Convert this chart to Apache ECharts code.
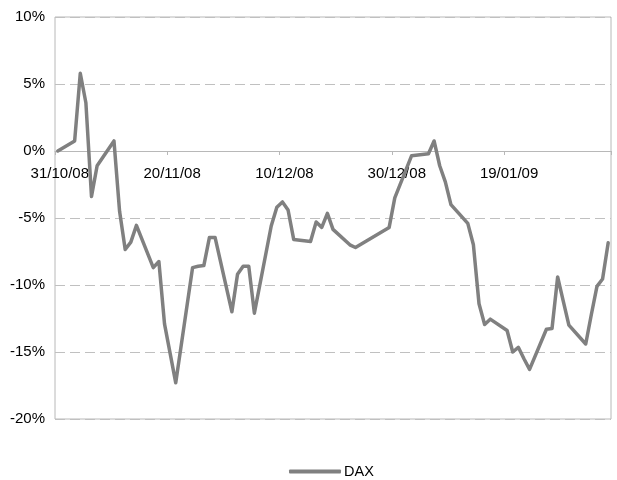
<!DOCTYPE html>
<html>
<head>
<meta charset="utf-8">
<script src="https://cdn.jsdelivr.net/npm/echarts@6/dist/echarts.min.js"></script>
<style>
html,body{margin:0;padding:0;background:#fff;}
#chart{width:617px;height:480px;}
</style>
</head>
<body>
<div id="chart"></div>
<script>
// Trading days (dd/mm/yy) and DAX performance vs 31/10/08 (%)
var tradingDays = [
  "31/10/08",
  "03/11/08","04/11/08","05/11/08","06/11/08","07/11/08",
  "10/11/08","11/11/08","12/11/08","13/11/08","14/11/08",
  "17/11/08","18/11/08","19/11/08","20/11/08","21/11/08",
  "24/11/08","25/11/08","26/11/08","27/11/08","28/11/08",
  "01/12/08","02/12/08","03/12/08","04/12/08","05/12/08",
  "08/12/08","09/12/08","10/12/08","11/12/08","12/12/08",
  "15/12/08","16/12/08","17/12/08","18/12/08","19/12/08",
  "22/12/08","23/12/08",
  "29/12/08","30/12/08",
  "02/01/09",
  "05/01/09","06/01/09","07/01/09","08/01/09","09/01/09",
  "12/01/09","13/01/09","14/01/09","15/01/09","16/01/09",
  "19/01/09","20/01/09","21/01/09","22/01/09","23/01/09",
  "26/01/09","27/01/09","28/01/09","29/01/09","30/01/09",
  "02/02/09","03/02/09","04/02/09","05/02/09","06/02/09"
];
var daxValues = [
  0,
  0.75, 5.8, 3.6, -3.4, -1.1,
  0.75, -4.5, -7.35, -6.8, -5.55,
  -8.7, -8.25, -12.9, -15.1, -17.3,
  -8.7, -8.6, -8.55, -6.45, -6.45,
  -12.0, -9.2, -8.6, -8.6, -12.1,
  -5.6, -4.2, -3.8, -4.4, -6.6,
  -6.75, -5.3, -5.7, -4.65, -5.85,
  -7.0, -7.2,
  -5.7, -3.5,
  -0.35,
  -0.2, 0.75, -1.1, -2.3, -4.0,
  -5.4, -7.0, -11.4, -12.95, -12.55,
  -13.4, -15.0, -14.65, -15.5, -16.3,
  -13.3, -13.25, -9.4, -11.2, -13.0,
  -14.4, -12.2, -10.1, -9.55, -6.85
];
var seriesName = "DAX";
var yTicks = [-20, -15, -10, -5, 0, 5, 10];

// Build a calendar-day category axis (date axis) from the trading days
function parseD(s){var p=s.split("/");return Date.UTC(2000+ +p[2], +p[1]-1, +p[0]);}
function fmt(t){var d=new Date(t);function z(n){return (n<10?"0":"")+n;}
  return z(d.getUTCDate())+"/"+z(d.getUTCMonth()+1)+"/"+z(d.getUTCFullYear()%100);}
var lookup = {};
tradingDays.forEach(function(d,i){lookup[d]=daxValues[i];});
var startT = parseD(tradingDays[0]), endT = parseD(tradingDays[tradingDays.length-1]);
var categories = [], seriesData = [];
for (var t = startT; t <= endT; t += 86400000) {
  var k = fmt(t);
  categories.push(k);
  seriesData.push(lookup.hasOwnProperty(k) ? lookup[k] : null);
}

var gridTop = 17, gridBottom = 61, chartH = 480;
var yMin = yTicks[0], yMax = yTicks[yTicks.length-1];
var plotH = chartH - gridTop - gridBottom;
// place the category axis where the value axis crosses 0
var zeroOffset = -plotH * (0 - yMin) / (yMax - yMin);

var chart = echarts.init(document.getElementById('chart'), null, {renderer:'canvas'});
var fontFam = "'Liberation Sans', Arial, sans-serif";
chart.setOption({
  animation: false,
  backgroundColor: '#ffffff',
  grid: {
    left: 55, right: 6, top: gridTop, bottom: gridBottom,
    show: true, borderColor: '#b8b8b8', borderWidth: 1, backgroundColor: 'transparent'
  },
  legend: {
    data: [seriesName],
    left: 289, top: 464,
    padding: 0,
    icon: 'roundRect',
    itemWidth: 52, itemHeight: 4,
    itemGap: 10,
    textStyle: {color: '#000', fontSize: 14.5, fontFamily: fontFam, padding: [0,0,0,-2]}
  },
  xAxis: {
    type: 'category',
    data: categories,
    boundaryGap: true,
    position: 'bottom',
    offset: zeroOffset,
    axisLine: {show: true, onZero: false, lineStyle: {color: '#b8b8b8', width: 1}},
    axisTick: {show: true, interval: 19, length: 4, inside: false, lineStyle: {color: '#b8b8b8'}},
    axisLabel: {interval: 19, color: '#000', fontSize: 15, fontFamily: fontFam, margin: 15,
      padding: [0, 0, 0, 4]},
    splitLine: {show: false}
  },
  yAxis: {
    type: 'value',
    min: yMin, max: yMax, interval: 5,
    axisLine: {show: false},
    axisTick: {show: false},
    axisLabel: {color: '#000', fontSize: 15, fontFamily: fontFam, margin: 10,
      formatter: function(v){return v + '%';}},
    splitLine: {show: true, lineStyle: {color: '#c0c0c0', type: [10, 5], width: 1}}
  },
  series: [{
    name: seriesName,
    type: 'line',
    data: seriesData,
    connectNulls: true,
    showSymbol: false,
    symbol: 'none',
    color: '#808080',
    lineStyle: {color: '#808080', width: 3.5, join: 'round', cap: 'round'}
  }]
});
</script>
</body>
</html>
